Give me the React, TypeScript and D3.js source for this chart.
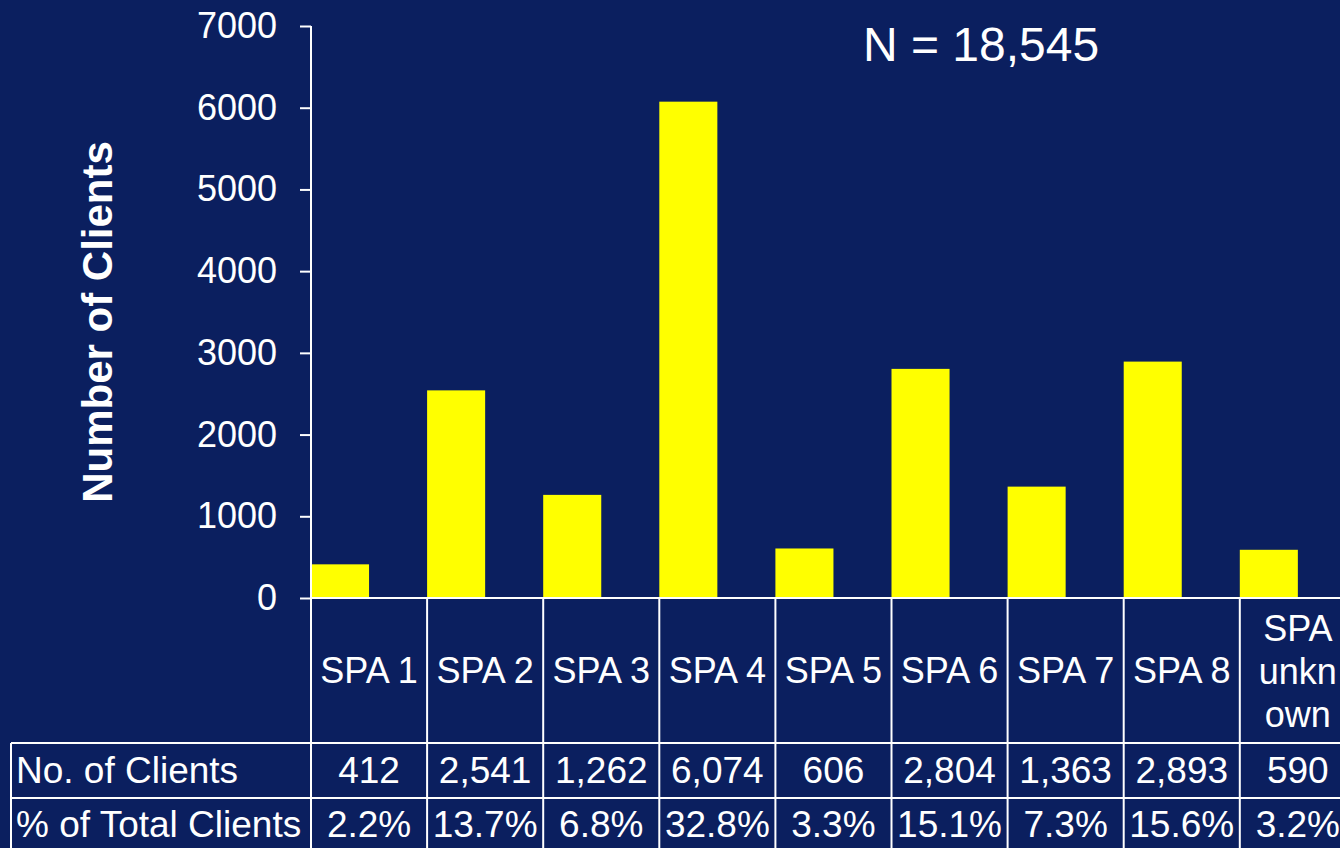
import { useEffect, useRef } from "react";
import * as d3 from "d3";

// ── Tokens ────────────────────────────────────────────────────────────────────

const BG     = "#0B1F5F";
const BAR    = "#FFFF00";
const LINE   = "#FFFFFF";
const FG     = "#FFFFFF";
const FONT   = "'Liberation Sans', Arial, Helvetica, sans-serif";

// ── Data ──────────────────────────────────────────────────────────────────────

const categories = ["SPA 1", "SPA 2", "SPA 3", "SPA 4", "SPA 5", "SPA 6", "SPA 7", "SPA 8", "SPA unknown"];
const headerLines = [["SPA 1"], ["SPA 2"], ["SPA 3"], ["SPA 4"], ["SPA 5"], ["SPA 6"], ["SPA 7"], ["SPA 8"], ["SPA", "unkn", "own"]];
const clients = [412, 2541, 1262, 6074, 606, 2804, 1363, 2893, 590];
const clientLabels = ["412", "2,541", "1,262", "6,074", "606", "2,804", "1,363", "2,893", "590"];
const pctLabels = ["2.2%", "13.7%", "6.8%", "32.8%", "3.3%", "15.1%", "7.3%", "15.6%", "3.2%"];
const rowLabels = ["No. of Clients", "% of Total Clients"];
const yTicks = [0, 1000, 2000, 3000, 4000, 5000, 6000, 7000];
const totalLabel = "N = 18,545";

export default function App() {
  const svgRef = useRef<SVGSVGElement>(null);

  useEffect(() => {
    if (!svgRef.current) return;

    const W = 1340, H = 848;
    const axisX = 311;
    const colW = 116.1;
    const yZero = 598, yTop = 26;
    const headerBottom = 743;
    const row1Bottom = 798;
    const row2Bottom = 853;
    const tableLeft = 11;

    const svg = d3.select(svgRef.current);
    svg.selectAll("*").remove();
    svg.attr("viewBox", `0 0 ${W} ${H}`);

    svg.append("rect").attr("width", W).attr("height", H).attr("fill", BG);

    const x = d3.scaleBand()
      .domain(categories)
      .range([axisX, axisX + colW * categories.length])
      .paddingInner(0)
      .paddingOuter(0);

    const y = d3.scaleLinear()
      .domain([0, 7000])
      .range([yZero, yTop]);

    // Bars — occupy left half of each column
    svg.append("g")
      .selectAll("rect")
      .data(clients)
      .join("rect")
      .attr("x", (_, i) => x(categories[i])!)
      .attr("y", d => y(d))
      .attr("width", x.bandwidth() / 2)
      .attr("height", d => yZero - y(d))
      .attr("fill", BAR);

    // Y axis
    svg.append("g")
      .attr("transform", `translate(${axisX},0)`)
      .call(d3.axisLeft(y).tickValues(yTicks).tickSize(11).tickPadding(23).tickFormat(d3.format("d")))
      .call(gg => gg.select(".domain").remove())
      .call(gg => gg.selectAll("line").attr("stroke", LINE).attr("stroke-width", 2))
      .call(gg => gg.selectAll("text")
        .attr("fill", FG)
        .attr("font-size", "36px")
        .attr("font-family", FONT));

    // Axis line (continues through the table)
    svg.append("line")
      .attr("x1", axisX).attr("x2", axisX)
      .attr("y1", yTop).attr("y2", row2Bottom)
      .attr("stroke", LINE).attr("stroke-width", 2);

    // Baseline
    svg.append("line")
      .attr("x1", axisX).attr("x2", x.range()[1])
      .attr("y1", yZero).attr("y2", yZero)
      .attr("stroke", LINE).attr("stroke-width", 2);

    // Y title
    svg.append("text")
      .attr("transform", `translate(112,322) rotate(-90)`)
      .attr("text-anchor", "middle")
      .attr("fill", FG)
      .attr("font-size", "42px")
      .attr("font-weight", "bold")
      .attr("font-family", FONT)
      .text("Number of Clients");

    // N label
    svg.append("text")
      .attr("x", 981).attr("y", 61)
      .attr("text-anchor", "middle")
      .attr("fill", FG)
      .attr("font-size", "48px")
      .attr("font-family", FONT)
      .text(totalLabel);

    // ── Data table ──
    const t = svg.append("g");

    // Column separators
    t.selectAll(".vline")
      .data(categories)
      .join("line")
      .attr("class", "vline")
      .attr("x1", d => x(d)! + x.bandwidth()).attr("x2", d => x(d)! + x.bandwidth())
      .attr("y1", yZero).attr("y2", row2Bottom)
      .attr("stroke", LINE).attr("stroke-width", 2);

    // Row lines
    [headerBottom, row1Bottom, row2Bottom].forEach(yy => {
      t.append("line")
        .attr("x1", tableLeft).attr("x2", x.range()[1])
        .attr("y1", yy).attr("y2", yy)
        .attr("stroke", LINE).attr("stroke-width", 2);
    });
    t.append("line")
      .attr("x1", tableLeft).attr("x2", tableLeft)
      .attr("y1", headerBottom).attr("y2", row2Bottom)
      .attr("stroke", LINE).attr("stroke-width", 2);

    const txt = (sel: d3.Selection<SVGGElement, unknown, null, undefined>, size: number) =>
      sel.attr("fill", FG).attr("font-size", `${size}px`).attr("font-family", FONT);

    // Header labels
    headerLines.forEach((lines, i) => {
      const cx = x(categories[i])! + x.bandwidth() / 2;
      const g = t.append("g");
      txt(g, 36);
      const lh = 43;
      const mid = 683;
      lines.forEach((ln, j) => {
        g.append("text")
          .attr("x", cx)
          .attr("y", mid + (j - (lines.length - 1) / 2) * lh + (lines.length > 1 ? 1 : 0))
          .attr("text-anchor", "middle")
          .text(ln);
      });
    });

    // Row labels
    const rows = [clientLabels, pctLabels];
    const baselines = [783, 837];
    rows.forEach((vals, r) => {
      const g = t.append("g");
      txt(g, 37);
      g.append("text")
        .attr("x", 16).attr("y", baselines[r])
        .text(rowLabels[r]);
      vals.forEach((v, i) => {
        g.append("text")
          .attr("x", x(categories[i])! + x.bandwidth() / 2)
          .attr("y", baselines[r])
          .attr("text-anchor", "middle")
          .text(v);
      });
    });
  }, []);

  return (
    <div style={{ position: "absolute", left: 0, top: 0, width: 1340, height: 848, overflow: "hidden" }}>
      <svg ref={svgRef} width={1340} height={848} style={{ display: "block" }} />
    </div>
  );
}
